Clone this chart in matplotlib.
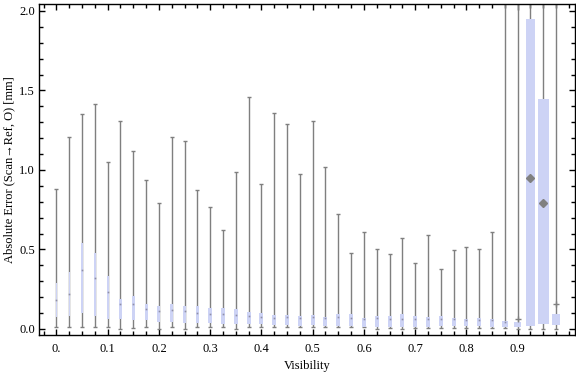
import numpy as np
import matplotlib
matplotlib.use("Agg")
import matplotlib.pyplot as plt
from matplotlib.ticker import MultipleLocator

plt.rcParams['font.family'] = ['Liberation Serif', 'DejaVu Serif']

# visibility bins (box centres)
visibility = [0.0, 0.025, 0.05, 0.075, 0.1, 0.125, 0.15, 0.175, 0.2, 0.225,
              0.25, 0.275, 0.3, 0.325, 0.35, 0.375, 0.4, 0.425, 0.45, 0.475,
              0.5, 0.525, 0.55, 0.575, 0.6, 0.625, 0.65, 0.675, 0.7, 0.725,
              0.75, 0.775, 0.8, 0.825, 0.85, 0.875, 0.9, 0.925, 0.95, 0.975]

# whisker ends
w_lo = [0.015, 0.01, 0.01, 0.01, 0.01, 0.0, 0.005, 0.01, 0.0, 0.01,
        0.0, 0.01, 0.01, 0.01, 0.0, 0.01, 0.01, 0.01, 0.01, 0.01,
        0.01, 0.01, 0.01, 0.01, 0.01, 0.0, 0.005, 0.0, 0.005, 0.005,
        0.005, 0.005, 0.005, 0.005, 0.005, 0.005, 0.0, 0.0, 0.0, 0.0]
w_hi = [0.88, 1.21, 1.35, 1.415, 1.05, 1.31, 1.12, 0.94, 0.795, 1.21,
        1.18, 0.875, 0.77, 0.62, 0.985, 1.46, 0.91, 1.36, 1.29, 0.975,
        1.31, 1.02, 0.72, 0.48, 0.61, 0.50, 0.47, 0.57, 0.415, 0.59,
        0.38, 0.495, 0.515, 0.50, 0.61, 2.6, 2.6, 2.6, 2.6, 2.6]

# quartiles
q1 = [0.077, 0.08, 0.10, 0.08, 0.065, 0.065, 0.057, 0.057, 0.046, 0.046,
      0.04, 0.035, 0.04, 0.03, 0.03, 0.03, 0.03, 0.025, 0.025, 0.02,
      0.025, 0.02, 0.02, 0.02, 0.015, 0.015, 0.015, 0.015, 0.015, 0.015,
      0.017, 0.017, 0.017, 0.017, 0.015, 0.013, 0.015, 0.02, 0.03, 0.025]
q3 = [0.29, 0.36, 0.54, 0.48, 0.33, 0.19, 0.21, 0.16, 0.145, 0.155,
      0.145, 0.145, 0.132, 0.132, 0.124, 0.107, 0.10, 0.088, 0.088, 0.082,
      0.088, 0.078, 0.094, 0.094, 0.071, 0.084, 0.084, 0.094, 0.082, 0.078,
      0.082, 0.071, 0.063, 0.071, 0.063, 0.05, 0.044, 1.95, 1.447, 0.094]

# centre marks
centre = [0.18, 0.22, 0.37, 0.32, 0.23, 0.16, 0.16, 0.126, 0.11, 0.12,
          0.11, 0.10, 0.092, 0.094, 0.085, 0.08, 0.075, 0.07, 0.077, 0.07,
          0.075, 0.07, 0.077, 0.07, 0.065, 0.07, 0.065, 0.063, 0.063, 0.063,
          0.063, 0.06, 0.057, 0.057, 0.057, 0.042, 0.063, 0.948, 0.79, 0.157]

# box widths in pixels
box_px = [1, 1, 1.5, 2, 2, 2.5, 3, 3, 3, 3,
          3.5, 3.5, 4, 4, 4, 4, 4, 4, 4, 4,
          4, 4, 4, 4, 4, 4, 4, 4, 4, 4,
          4, 4, 4, 4, 4, 6, 6.7, 9, 11, 8]

fig = plt.figure(figsize=(5.76, 3.75), dpi=100)
ax = fig.add_axes([39 / 576, 40 / 375, 536 / 576, 331 / 375])

x0, x1 = -0.034, 1.012
y0, y1 = -0.038, 2.044
ax.set_xlim(x0, x1)
ax.set_ylim(y0, y1)
px = (x1 - x0) / 536.0
widths = [b * px for b in box_px]

gray = '#7f7f7f'
ax.vlines(visibility, w_lo, w_hi, color=gray, lw=1.0, zorder=2)
cap = 4 * px
ax.hlines(w_lo, np.array(visibility) - cap / 2, np.array(visibility) + cap / 2,
          color=gray, lw=1.0, zorder=2)
ax.hlines(w_hi, np.array(visibility) - cap / 2, np.array(visibility) + cap / 2,
          color=gray, lw=1.0, zorder=2)

heights = np.array(q3) - np.array(q1)
ax.bar(visibility, heights, bottom=q1, width=widths, color='#cdd3f5',
       edgecolor='none', zorder=3)

for i, (v, c) in enumerate(zip(visibility, centre)):
    if q3[i] > 1:
        ax.plot(v, c, marker='D', ms=4, color='#808080', zorder=4)
    elif c > q3[i]:
        # mark lies above the box
        ax.plot(v, c, marker='+', ms=4, mew=1, color='#808080', zorder=4)
    else:
        ax.plot(v, c, marker='s', ms=1.2, mew=0, color='#8f8fa8', zorder=4)

ax.xaxis.set_minor_locator(MultipleLocator(0.025))
ax.yaxis.set_minor_locator(MultipleLocator(0.1))
ax.set_xticks(np.arange(0, 1.0, 0.1))
ax.set_xticklabels(['0.', '0.1', '0.2', '0.3', '0.4', '0.5', '0.6', '0.7', '0.8', '0.9'])
ax.set_yticks([0, 0.5, 1.0, 1.5, 2.0])
ax.set_yticklabels(['0.0', '0.5', '1.0', '1.5', '2.0'])
ax.tick_params(which='both', direction='in', top=True, right=True,
               labelsize=9, width=1, color='black')
ax.tick_params(axis='x', pad=6)
ax.tick_params(axis='y', pad=3)
ax.tick_params(which='major', length=4.5)
ax.tick_params(which='minor', length=3)
for s in ax.spines.values():
    s.set_linewidth(1)

ax.set_xlabel('Visibility', fontsize=9, labelpad=3)
ax.set_ylabel('Absolute Error (Scan\u2192Ref, O) [mm]', fontsize=9, labelpad=3)

fig.savefig('out.png', dpi=100)
